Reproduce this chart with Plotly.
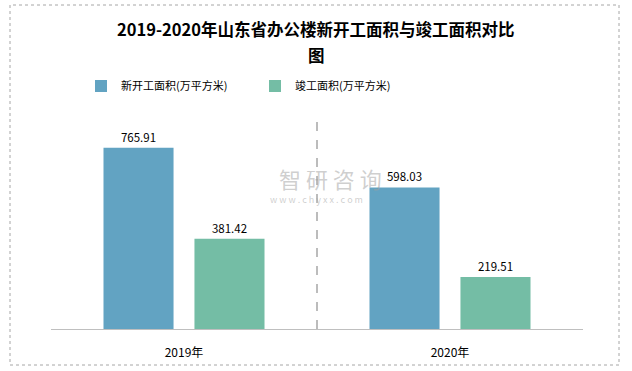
import plotly.graph_objects as go

categories = ["2019年", "2020年"]
new_started = [765.91, 598.03]
completed = [381.42, 219.51]
series_names = ["新开工面积(万平方米)", "竣工面积(万平方米)"]
title_lines = ["2019-2020年山东省办公楼新开工面积与竣工面积对比", "图"]

FONT = "Noto Sans CJK SC"
W, H = 632, 371
L, R, T, B = 51, 49, 116, 42
pw, ph = W - L - R, H - T - B

def px_x(x):
    return (x - L) / pw

def px_y(y):
    return (H - B - y) / ph

fig = go.Figure()
fig.add_trace(go.Bar(
    x=categories, y=new_started, name=series_names[0],
    marker=dict(color="#62A3C2", line=dict(width=0)),
    text=[f"{v:.2f}" for v in new_started], textposition="outside",
    textfont=dict(size=11.5, color="#000000", family=FONT),
    cliponaxis=False,
))
fig.add_trace(go.Bar(
    x=categories, y=completed, name=series_names[1],
    marker=dict(color="#74BDA5", line=dict(width=0)),
    text=[f"{v:.2f}" for v in completed], textposition="outside",
    textfont=dict(size=11.5, color="#000000", family=FONT),
    cliponaxis=False,
))

shapes = [
    dict(type="rect", xref="paper", yref="paper",
         x0=px_x(10), x1=px_x(619), y0=px_y(365), y1=px_y(5),
         line=dict(color="#a6a6a6", width=1, dash="dot"), fillcolor="rgba(0,0,0,0)", layer="below"),
    dict(type="line", xref="x", yref="paper", x0=0.5, x1=0.5, y0=0, y1=1,
         line=dict(color="#a6a6a6", width=1.5, dash="dash"), layer="below"),
]

title_font = dict(size=16.5, color="#000000", family=FONT, weight="bold")
annotations = [
    dict(text=title_lines[0], xref="paper", yref="paper", x=px_x(316), y=px_y(29),
         xanchor="center", yanchor="middle", showarrow=False, font=title_font),
    dict(text=title_lines[1], xref="paper", yref="paper", x=px_x(316), y=px_y(55),
         xanchor="center", yanchor="middle", showarrow=False, font=title_font),
    dict(text="智 研 咨 询", xref="paper", yref="paper", x=px_x(330), y=px_y(178),
         xanchor="center", yanchor="middle",
         showarrow=False, font=dict(size=22, color="rgba(160,160,160,0.5)", family=FONT)),
    dict(text="w w w . c h y x x . c o m", xref="paper", yref="paper", x=px_x(316), y=px_y(199),
         xanchor="center", yanchor="middle",
         showarrow=False, font=dict(size=9, color="rgba(160,160,160,0.5)", family=FONT)),
]

fig.update_layout(
    width=W, height=H,
    margin=dict(l=L, r=R, t=T, b=B, autoexpand=False),
    paper_bgcolor="white", plot_bgcolor="white",
    barmode="group", bargap=0.316, bargroupgap=0.23,
    showlegend=True,
    legend=dict(orientation="h", x=px_x(81), xanchor="left", y=px_y(86), yanchor="middle",
                entrywidth=129, entrywidthmode="pixels", itemwidth=30,
                font=dict(size=11, color="#000000", family=FONT),
                bgcolor="rgba(0,0,0,0)"),
    xaxis=dict(type="category", showgrid=False, showline=True, linecolor="#bfbfbf", linewidth=1,
               ticks="", ticklabelstandoff=13,
               tickfont=dict(size=12, color="#000000", family=FONT), zeroline=False),
    yaxis=dict(range=[0, 900], visible=False, showgrid=False, zeroline=False),
    shapes=shapes, annotations=annotations,
    font=dict(family=FONT),
)

fig.write_html("out.html", config={"displayModeBar": False},
               post_script="document.body.style.margin='0';document.body.style.padding='0';")
